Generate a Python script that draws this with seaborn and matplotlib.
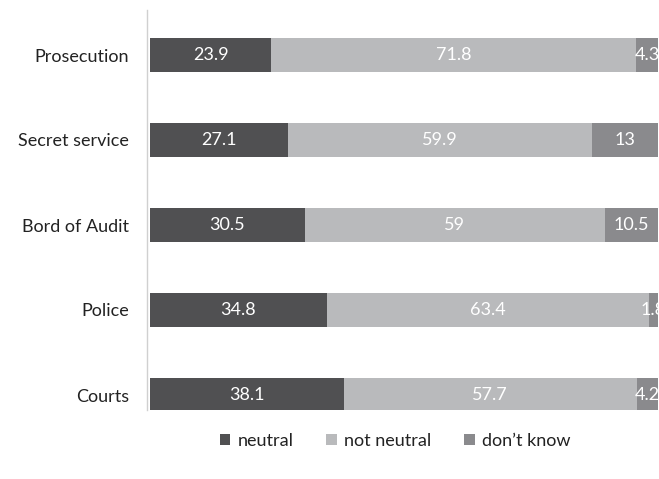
import numpy as np
import pandas as pd
import matplotlib
matplotlib.use("Agg")
import matplotlib.pyplot as plt
import seaborn as sns
from matplotlib.patches import Patch

institutions = ["Prosecution", "Secret service", "Bord of Audit", "Police", "Courts"]
neutral = [23.9, 27.1, 30.5, 34.8, 38.1]
not_neutral = [71.8, 59.9, 59.0, 63.4, 57.7]
dont_know = [4.3, 13.0, 10.5, 1.8, 4.2]
series_names = ["neutral", "not neutral", "don\u2019t know"]
colors = ["#505052", "#b9babc", "#8a8a8d"]

sns.set_theme(style="white")
plt.rcParams["font.family"] = ["Lato", "DejaVu Sans"]

df = pd.DataFrame({
    "institution": institutions,
    "neutral": neutral,
    "not neutral": not_neutral,
    "don\u2019t know": dont_know,
})
df["c1"] = df["neutral"]
df["c2"] = df["neutral"] + df["not neutral"]
df["c3"] = df["c2"] + df["don\u2019t know"]

fig = plt.figure(figsize=(6.59, 4.79), dpi=100)
ax = fig.add_axes([150 / 659, 69 / 479, 508 / 659, 400 / 479])

# stacked bars: draw cumulative totals back to front
for col, color in zip(["c3", "c2", "c1"], colors[::-1]):
    sns.barplot(data=df, x=col, y="institution", order=institutions,
                color=color, width=0.4, orient="h", ax=ax,
                saturation=1, linewidth=0)

# value labels centred in each segment
for i in range(len(institutions)):
    start = 0.0
    for vals in (neutral, not_neutral, dont_know):
        v = vals[i]
        ax.text(start + v / 2, i, f"{v:g}", ha="center", va="center",
                color="white", fontsize=13, clip_on=False)
        start += v

ax.set_xlim(0, 100)
ax.set_ylim(4 + 15 / 85, -45 / 85)
ax.set_xlabel("")
ax.set_ylabel("")
ax.set_xticks([])
ax.tick_params(axis="y", length=0, pad=13, labelsize=13, labelcolor="#222222")
for s in ["top", "right", "bottom"]:
    ax.spines[s].set_visible(False)
ax.spines["left"].set_color("#d0d0d0")
ax.spines["left"].set_linewidth(1.0)
ax.spines["left"].set_position(("outward", 2))

handles = [Patch(facecolor=c, edgecolor="none") for c in colors]
fig.legend(handles, series_names, loc="center", bbox_to_anchor=(395 / 659, 1 - 441 / 479),
           ncol=3, frameon=False, fontsize=13, handlelength=0.6, handleheight=0.6,
           handletextpad=0.4, columnspacing=1.8, labelcolor="#222222")

fig.savefig("out.png", dpi=100)
